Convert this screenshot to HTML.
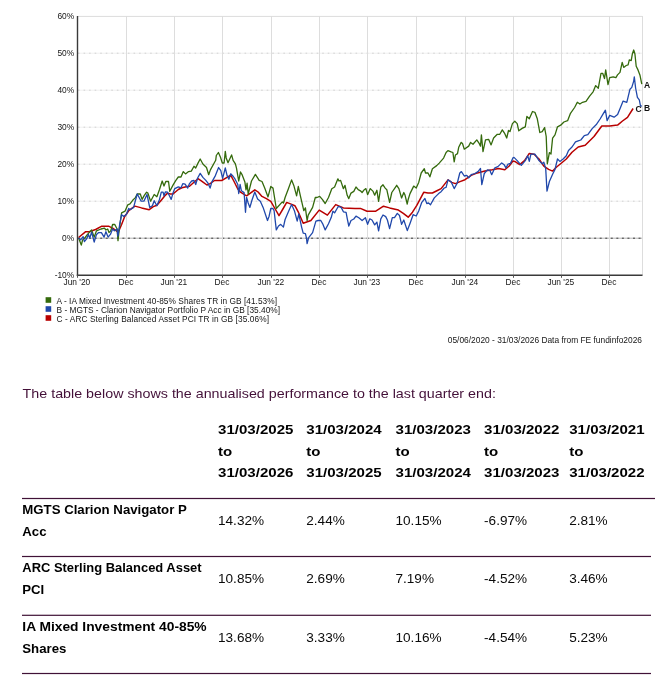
<!DOCTYPE html>
<html><head><meta charset="utf-8"><title>Fund performance</title>
<style>
html,body{margin:0;padding:0;background:#fff;}
body{width:670px;height:683px;position:relative;overflow:hidden;}
svg text{font-family:"Liberation Sans",sans-serif;fill:#151515;}
.ax{font-size:8.4px;}
.lg{font-size:8.3px;}
.lb{font-size:8.5px;font-weight:bold;fill:#111;}
.para{font-size:12.8px;fill:#431038;}
.hdr{font-size:12.7px;font-weight:bold;fill:#000;}
.lbl{font-size:12.7px;font-weight:bold;fill:#000;}
.val{font-size:12.4px;fill:#0a0a0a;}
</style></head>
<body>
<svg width="670" height="683" viewBox="0 0 670 683" style="position:absolute;left:0;top:0;will-change:transform">
<line x1="77.5" y1="53.2" x2="642.5" y2="53.2" stroke="#f0f0f0" stroke-width="1"/>
<line x1="78.0" y1="53.2" x2="642.5" y2="53.2" stroke="#d2d2d2" stroke-width="1" stroke-dasharray="1.6 3.95"/>
<line x1="77.5" y1="90.2" x2="642.5" y2="90.2" stroke="#f0f0f0" stroke-width="1"/>
<line x1="78.0" y1="90.2" x2="642.5" y2="90.2" stroke="#d2d2d2" stroke-width="1" stroke-dasharray="1.6 3.95"/>
<line x1="77.5" y1="127.2" x2="642.5" y2="127.2" stroke="#f0f0f0" stroke-width="1"/>
<line x1="78.0" y1="127.2" x2="642.5" y2="127.2" stroke="#d2d2d2" stroke-width="1" stroke-dasharray="1.6 3.95"/>
<line x1="77.5" y1="164.2" x2="642.5" y2="164.2" stroke="#f0f0f0" stroke-width="1"/>
<line x1="78.0" y1="164.2" x2="642.5" y2="164.2" stroke="#d2d2d2" stroke-width="1" stroke-dasharray="1.6 3.95"/>
<line x1="77.5" y1="201.2" x2="642.5" y2="201.2" stroke="#f0f0f0" stroke-width="1"/>
<line x1="78.0" y1="201.2" x2="642.5" y2="201.2" stroke="#d2d2d2" stroke-width="1" stroke-dasharray="1.6 3.95"/>
<line x1="77.5" y1="238.2" x2="642.5" y2="238.2" stroke="#b4b4b4" stroke-width="1"/>
<line x1="78.0" y1="238.2" x2="642.5" y2="238.2" stroke="#3c3c3c" stroke-width="1" stroke-dasharray="2 3.55"/>
<line x1="126.5" y1="16" x2="126.5" y2="275.3" stroke="#dddddd" stroke-width="1"/>
<line x1="174.5" y1="16" x2="174.5" y2="275.3" stroke="#dddddd" stroke-width="1"/>
<line x1="222.5" y1="16" x2="222.5" y2="275.3" stroke="#dddddd" stroke-width="1"/>
<line x1="271.5" y1="16" x2="271.5" y2="275.3" stroke="#dddddd" stroke-width="1"/>
<line x1="319.5" y1="16" x2="319.5" y2="275.3" stroke="#dddddd" stroke-width="1"/>
<line x1="367.5" y1="16" x2="367.5" y2="275.3" stroke="#dddddd" stroke-width="1"/>
<line x1="416.5" y1="16" x2="416.5" y2="275.3" stroke="#dddddd" stroke-width="1"/>
<line x1="465.5" y1="16" x2="465.5" y2="275.3" stroke="#dddddd" stroke-width="1"/>
<line x1="513.5" y1="16" x2="513.5" y2="275.3" stroke="#dddddd" stroke-width="1"/>
<line x1="561.5" y1="16" x2="561.5" y2="275.3" stroke="#dddddd" stroke-width="1"/>
<line x1="609.5" y1="16" x2="609.5" y2="275.3" stroke="#dddddd" stroke-width="1"/>
<line x1="77.5" y1="16.4" x2="642.5" y2="16.4" stroke="#dcdcdc" stroke-width="1"/>
<line x1="642.5" y1="16" x2="642.5" y2="275.3" stroke="#dddddd" stroke-width="1"/>
<path d="M78.6,237.5 L85.7,231.7 L89.3,231.7 L95.6,229.5 L101.4,226.3 L109,226.3 L112.6,228.1 L117.1,231.3 L118.9,230.8 L121.6,224.5 L124.7,216.5 L128.7,210.7 L134.9,206.1 L141.6,207.9 L149.2,209.7 L153.3,206.6 L156.9,205.2 L160.4,201.2 L164.9,195.8 L167.6,193.1 L170.3,194 L173,194 L178.3,189.5 L181.9,187.8 L187.3,186.4 L189.5,186.3 L194,182.3 L198,178.7 L202,181.4 L206.9,185 L210.1,183.6 L214.5,180.5 L221.7,180.5 L226.2,177.8 L230.7,175.1 L233.8,181 L237.8,189 L240.5,192.2 L244.1,194.4 L246.6,195.8 L250.4,193.1 L254.8,189.8 L258.1,192 L262,196.4 L266.4,198.6 L270.8,201.3 L275.2,209 L279,215.6 L282.9,209 L286.7,202.4 L291.1,204.1 L294.9,205.7 L298.2,211.8 L299.4,214.5 L303.2,223.3 L310.9,220.5 L319.2,210.1 L327.4,215.1 L335.7,204.6 L343.4,207.9 L355,208.5 L360.4,208.4 L367,211.2 L375.8,211.2 L383.5,206.2 L389.6,207.9 L398.4,210.1 L403.3,213.4 L408.2,217.2 L412.5,212.2 L416.8,205.4 L423.7,192.3 L428,193 L432.4,193 L437.4,190.5 L441.1,188.6 L448,179.9 L451.7,182.4 L455.4,183.6 L460,181.6 L465,179.7 L471.2,175.4 L477.4,172.9 L484.9,171 L492.3,169.8 L498.6,168.5 L504.8,169.8 L509.2,166 L512.9,161 L514.8,161.4 L519.7,164.6 L524.5,160.6 L529.3,153.4 L534.1,154.2 L539,159 L543.8,166.2 L548.6,169.4 L552.6,171.1 L556.6,167 L561.5,163 L566.3,159 L572,152.3 L578.2,147 L585.2,145.3 L594,136.5 L601.8,126 L609.7,126 L617.6,125.1 L622.5,121 L627.5,117.3 L633.1,108.5" fill="none" stroke="#b80000" stroke-width="1.5" stroke-linejoin="round"/>
<path d="M78.6,238 L81.3,245.1 L82.6,240 L84.8,238 L87.5,234.4 L91.6,229.9 L94.2,237.1 L96.5,230.8 L101,229 L104.5,228.1 L105.9,230 L107.7,229 L109,232.6 L110.8,230.8 L112.6,224.5 L114.8,224.5 L117.1,229 L118,240.7 L119.3,229 L121.6,212.9 L125.1,211.1 L127.8,204.8 L130,203.9 L132.7,200.3 L135.4,197.6 L137.2,194 L140.3,194 L142.1,199.4 L144.3,195.4 L146.6,192.2 L147.9,193.1 L150.6,201.2 L154.2,194.5 L156.9,196.7 L159.5,189.5 L162.2,181 L164,186 L165.8,181.5 L168.5,181.5 L169.8,191.3 L173,185.1 L175.7,180.6 L178.3,177 L181,177 L183.3,171.6 L185.5,173.9 L188.6,171.6 L191.3,171.1 L194,166.2 L195.7,168 L198,163.1 L200.2,159 L202.9,164 L206.5,167.5 L208.7,174.7 L210.4,169.9 L215.7,160.3 L216.3,155.5 L218.4,152.5 L220.5,157.3 L222.3,163 L224.1,163 L225.3,151.3 L226.2,157.9 L228,162.7 L231.6,154.9 L233.1,160.3 L235.4,163.9 L236.6,168.7 L237,171.1 L238.7,181 L240.5,172 L242.2,174.9 L244.9,182.1 L246,189.8 L247.1,183.2 L248.2,194.2 L251.5,181 L255.4,174.4 L259.2,180.4 L262,181.5 L264.7,188.1 L268,196.9 L270.8,186.5 L273,188.1 L276.3,208.5 L282.3,201.9 L283.5,203 L285.1,197.5 L288.4,188.7 L291.6,179.9 L293.8,185.4 L296.6,195.8 L298.3,186.5 L300.5,196.4 L303.8,210.7 L305.4,207.9 L307.1,220.5 L308.2,215.1 L312.6,207.4 L315.3,197.5 L317,197.5 L319.7,196.4 L322.5,199.7 L325.2,203.5 L328.5,197.5 L331.8,188.7 L334.6,187 L337.9,178.8 L339,181 L340.6,180.4 L343.4,188.7 L345,185.4 L347.2,195.3 L348.8,198.6 L351,193.1 L353.8,191.4 L356,187 L358.2,189.7 L360.4,190.8 L362.1,192.5 L363.7,190.3 L365.9,188.6 L367.6,194.7 L370.3,188.6 L373.1,191.4 L374.7,195.2 L376.9,190.3 L378.6,201.3 L380.8,187 L383,184.8 L385.2,188.1 L386.8,189.7 L389.6,202.4 L391.8,192.5 L394.5,188.6 L396.7,185.3 L398.9,188.6 L401.6,198 L403.8,192.5 L404.9,194.7 L407.2,204 L408.1,199.8 L410,193.6 L413.7,186.1 L416.2,188 L418.7,182.4 L421.2,173 L424.3,168.7 L425.5,173 L428,173 L429.9,176.8 L432.4,168.7 L436.7,165.6 L439.2,163.1 L443.6,158.1 L446.1,152.5 L447.9,150.6 L451.1,151.9 L452.9,152.5 L454.2,161.8 L455.4,155 L457.5,153.6 L458.7,147.3 L461.2,142.4 L462.5,143.5 L464.3,149.2 L468.7,146.1 L470.6,142.4 L473,144.2 L476.8,139.9 L479.3,143.6 L480.5,146.1 L481.4,134.9 L483,151.7 L485.5,139.9 L488.6,139.3 L491.1,144.9 L493.6,138 L497.3,134.3 L499.8,134.3 L502.3,129.9 L504.8,133.7 L506.7,138 L508.5,130.5 L510,131.6 L512.4,123.6 L514.8,121.2 L517.2,123.6 L518.8,130.8 L522.1,128.4 L525.3,126.8 L526.9,116.4 L529.3,118.8 L532.5,111.5 L534.9,112.3 L537.3,118.8 L539.8,132.5 L542.2,131.6 L544.6,127.6 L546.2,136.5 L547.3,163.8 L549.4,152.6 L551,154 L552.6,138.1 L555,134.9 L557.5,126.8 L560.7,125.2 L563.9,122 L567.6,120.7 L570.3,113.7 L574.6,107.5 L577.3,102.3 L579.9,104 L582.5,102.3 L586,101.4 L589.6,96.1 L593.1,91.8 L595.7,85.6 L598.3,88.2 L601,73.3 L602.7,73.3 L604.5,78.6 L605.7,69.8 L608,84.7 L609.7,77.7 L613.2,76.8 L615.9,77.7 L617.5,74.9 L620,72.4 L622.2,62.4 L623.7,67.4 L626.2,65.5 L628.1,64.9 L629.3,59.9 L631.2,60.6 L632.4,53.7 L633.7,50 L634.9,53.7 L636.2,66.2 L638,69.9 L639.9,74.9 L641.8,84.2" fill="none" stroke="#346a0c" stroke-width="1.3" stroke-linejoin="round"/>
<path d="M78.6,238 L80.7,239.8 L83.1,236.6 L84.4,241.6 L86.6,238.9 L88.4,234.4 L89.8,238 L91.6,232.2 L94.2,242 L96.5,234.4 L98.7,232.6 L101.4,232.6 L104.1,237.1 L105.9,231.7 L108.1,237.1 L110.4,234.4 L112.6,229 L114.4,230.8 L117.1,229 L117.8,236.2 L118.5,232.6 L119.8,223.6 L121.6,214.7 L123.8,216.5 L126.5,214.2 L128.7,208.4 L130,209.7 L133.6,207.4 L137.2,194 L141.2,201.2 L143.9,201.2 L147,194.5 L149.7,207.4 L152.4,205.7 L154.2,200.7 L156.9,205.7 L159.5,199.4 L161.3,192.2 L163.1,192.2 L164,195.8 L165.4,191.8 L167.6,192.2 L169.4,195.8 L171.2,199.4 L173,193.1 L174.8,188.6 L178.3,186.9 L181,187.8 L182.8,183.7 L185.1,184.2 L187.7,188.1 L189.5,183.6 L191.7,181 L194,180.5 L195.7,184.5 L197.5,178.3 L200.2,173.4 L202.9,177.4 L205.6,180.1 L207.8,182.8 L210.1,188.1 L211.9,181.9 L215.4,175.6 L218.6,167.5 L220.8,170.7 L222.6,178.3 L225.3,168 L227.1,175.6 L228.9,179.2 L230.7,173.8 L233.3,176.5 L235.1,179.2 L237.8,184.5 L238.7,193.5 L240.1,184.5 L241.4,190.8 L244.1,192.6 L245.5,212.3 L246.6,197.5 L248.2,203 L249.9,207.4 L252.1,199.7 L254.8,192 L257.6,199.1 L260.3,201.3 L263.1,207.4 L267.5,220.5 L269.1,216.2 L270.8,208.5 L273,208.5 L274.1,210.7 L276.3,229.9 L278.5,226 L280.7,224.4 L283.4,227.1 L285.1,219.5 L288.4,211.8 L291.6,204.6 L294.4,210.7 L297.2,221.1 L298.8,214 L301.6,227.1 L303.2,233.2 L305.4,233.7 L306.5,238.1 L307.1,243.6 L308.7,237.6 L312.6,232.6 L315.9,221.1 L318.1,220.5 L320.8,220.5 L323,224.4 L325.2,229.9 L328.5,223.8 L331.3,217.3 L332.9,211.2 L334.6,212.9 L336.8,209 L338.4,206.3 L341.2,207.4 L343.4,211.8 L346.1,212.3 L347.2,218.4 L348.8,226 L351,220.5 L353.8,219 L356,216.1 L358.8,217.7 L362.1,220.5 L365.4,217.7 L367.6,224.3 L369.8,218.8 L372,220 L374.7,224.9 L376.9,222.1 L378.6,230.9 L380.8,218.8 L383,215 L385.7,216.6 L387.4,220 L389.6,228.7 L392.3,217.7 L394.5,217.7 L397.3,213.4 L399.5,215.5 L401.6,224.3 L403.8,220 L407.3,230.6 L410,223.4 L413.1,214.7 L416.2,216 L418.7,211 L421.8,202.3 L424.9,198.5 L426.8,203.5 L428.6,203 L430.5,204.8 L434.3,197.9 L438.6,193.6 L441.1,191.7 L444.2,188 L446.1,187.3 L448,179.9 L451.1,181.7 L454.2,188.6 L457.3,183 L459.8,173 L461.4,171.6 L464.3,176 L466.8,175.4 L468.7,177.8 L471.2,174.7 L474.9,173.5 L478,171.6 L480.5,168.5 L481.8,184.7 L484.3,173.5 L487.4,169.8 L489.9,170.4 L491.7,174.7 L494.8,167.9 L497.9,166.6 L501.7,162.9 L504.2,164.8 L506,167.9 L507.9,164.2 L510.4,163.5 L512.9,157.9 L514,157.4 L517.2,160.6 L521.3,165.4 L525.3,160.6 L527.7,155.8 L529.3,161.4 L530.9,154.2 L534.9,154.2 L539,160.6 L542.2,163.8 L543.8,162.2 L545.7,168.6 L547,191.2 L549.4,181.5 L552.6,174.3 L555,169.4 L557.5,159 L559.9,161.4 L563.1,159 L566.3,155.8 L568.5,150.5 L572,147 L575.5,141.8 L578.2,140.9 L580.8,140 L584.3,135.6 L587.8,134.7 L592.2,128.6 L596.6,124.2 L600.1,119 L602.7,114.6 L605.4,110.2 L607.1,120.7 L609.7,115.4 L614.1,117.2 L617.6,114.6 L620.5,107.5 L623.1,101.1 L626.8,102.3 L630,89.2 L631.8,87.4 L633.7,81.1 L634.3,76.8 L635.6,88 L637.4,97.3 L639.3,99.8 L640.5,106 L641.8,106" fill="none" stroke="#2048ab" stroke-width="1.3" stroke-linejoin="round"/>
<line x1="77.5" y1="16" x2="77.5" y2="276.1" stroke="#3a3a3a" stroke-width="1.4"/>
<line x1="76.8" y1="275.3" x2="642.5" y2="275.3" stroke="#3a3a3a" stroke-width="1.5"/>
<line x1="77.5" y1="275.3" x2="77.5" y2="277.8" stroke="#555" stroke-width="1"/>
<line x1="126.5" y1="275.3" x2="126.5" y2="277.8" stroke="#555" stroke-width="1"/>
<line x1="174.5" y1="275.3" x2="174.5" y2="277.8" stroke="#555" stroke-width="1"/>
<line x1="222.5" y1="275.3" x2="222.5" y2="277.8" stroke="#555" stroke-width="1"/>
<line x1="271.5" y1="275.3" x2="271.5" y2="277.8" stroke="#555" stroke-width="1"/>
<line x1="319.5" y1="275.3" x2="319.5" y2="277.8" stroke="#555" stroke-width="1"/>
<line x1="367.5" y1="275.3" x2="367.5" y2="277.8" stroke="#555" stroke-width="1"/>
<line x1="416.5" y1="275.3" x2="416.5" y2="277.8" stroke="#555" stroke-width="1"/>
<line x1="465.5" y1="275.3" x2="465.5" y2="277.8" stroke="#555" stroke-width="1"/>
<line x1="513.5" y1="275.3" x2="513.5" y2="277.8" stroke="#555" stroke-width="1"/>
<line x1="561.5" y1="275.3" x2="561.5" y2="277.8" stroke="#555" stroke-width="1"/>
<line x1="609.5" y1="275.3" x2="609.5" y2="277.8" stroke="#555" stroke-width="1"/>
<text x="74.2" y="19.3" text-anchor="end" class="ax">60%</text>
<text x="74.2" y="56.3" text-anchor="end" class="ax">50%</text>
<text x="74.2" y="93.3" text-anchor="end" class="ax">40%</text>
<text x="74.2" y="130.3" text-anchor="end" class="ax">30%</text>
<text x="74.2" y="167.3" text-anchor="end" class="ax">20%</text>
<text x="74.2" y="204.3" text-anchor="end" class="ax">10%</text>
<text x="74.2" y="241.3" text-anchor="end" class="ax">0%</text>
<text x="74.2" y="278.3" text-anchor="end" class="ax">-10%</text>
<text x="76.9" y="284.6" text-anchor="middle" class="ax">Jun '20</text>
<text x="125.9" y="284.6" text-anchor="middle" class="ax">Dec</text>
<text x="173.9" y="284.6" text-anchor="middle" class="ax">Jun '21</text>
<text x="221.9" y="284.6" text-anchor="middle" class="ax">Dec</text>
<text x="270.9" y="284.6" text-anchor="middle" class="ax">Jun '22</text>
<text x="318.9" y="284.6" text-anchor="middle" class="ax">Dec</text>
<text x="366.9" y="284.6" text-anchor="middle" class="ax">Jun '23</text>
<text x="415.9" y="284.6" text-anchor="middle" class="ax">Dec</text>
<text x="464.9" y="284.6" text-anchor="middle" class="ax">Jun '24</text>
<text x="512.9" y="284.6" text-anchor="middle" class="ax">Dec</text>
<text x="560.9" y="284.6" text-anchor="middle" class="ax">Jun '25</text>
<text x="608.9" y="284.6" text-anchor="middle" class="ax">Dec</text>
<text x="644" y="88" class="lb">A</text>
<text x="644" y="111" class="lb">B</text>
<text x="635.6" y="112" class="lb">C</text>
<rect x="45.6" y="297.2" width="5.6" height="5.6" fill="#346a0c"/>
<text x="56.5" y="303.9" class="lg" textLength="220.5" lengthAdjust="spacing">A - IA Mixed Investment 40-85% Shares TR in GB [41.53%]</text>
<rect x="45.6" y="306.2" width="5.6" height="5.6" fill="#2048ab"/>
<text x="56.5" y="312.9" class="lg" textLength="223.5" lengthAdjust="spacing">B - MGTS - Clarion Navigator Portfolio P Acc in GB [35.40%]</text>
<rect x="45.6" y="315.2" width="5.6" height="5.6" fill="#b80000"/>
<text x="56.5" y="321.9" class="lg" textLength="212.5" lengthAdjust="spacing">C - ARC Sterling Balanced Asset PCI TR in GB [35.06%]</text>
<text x="447.8" y="343.2" class="ax">05/06/2020 - 31/03/2026 Data from FE fundinfo2026</text>
<text x="22.6" y="397.8" class="para" textLength="473.3" lengthAdjust="spacingAndGlyphs">The table below shows the annualised performance to the last quarter end:</text>
<text x="218.0" y="434.1" class="hdr" textLength="75.4" lengthAdjust="spacingAndGlyphs">31/03/2025</text>
<text x="218.0" y="455.6" class="hdr" textLength="14.2" lengthAdjust="spacingAndGlyphs">to</text>
<text x="218.0" y="476.5" class="hdr" textLength="75.4" lengthAdjust="spacingAndGlyphs">31/03/2026</text>
<text x="306.3" y="434.1" class="hdr" textLength="75.4" lengthAdjust="spacingAndGlyphs">31/03/2024</text>
<text x="306.3" y="455.6" class="hdr" textLength="14.2" lengthAdjust="spacingAndGlyphs">to</text>
<text x="306.3" y="476.5" class="hdr" textLength="75.4" lengthAdjust="spacingAndGlyphs">31/03/2025</text>
<text x="395.5" y="434.1" class="hdr" textLength="75.4" lengthAdjust="spacingAndGlyphs">31/03/2023</text>
<text x="395.5" y="455.6" class="hdr" textLength="14.2" lengthAdjust="spacingAndGlyphs">to</text>
<text x="395.5" y="476.5" class="hdr" textLength="75.4" lengthAdjust="spacingAndGlyphs">31/03/2024</text>
<text x="484.1" y="434.1" class="hdr" textLength="75.4" lengthAdjust="spacingAndGlyphs">31/03/2022</text>
<text x="484.1" y="455.6" class="hdr" textLength="14.2" lengthAdjust="spacingAndGlyphs">to</text>
<text x="484.1" y="476.5" class="hdr" textLength="75.4" lengthAdjust="spacingAndGlyphs">31/03/2023</text>
<text x="569.2" y="434.1" class="hdr" textLength="75.4" lengthAdjust="spacingAndGlyphs">31/03/2021</text>
<text x="569.2" y="455.6" class="hdr" textLength="14.2" lengthAdjust="spacingAndGlyphs">to</text>
<text x="569.2" y="476.5" class="hdr" textLength="75.4" lengthAdjust="spacingAndGlyphs">31/03/2022</text>
<rect x="22" y="497.9" width="633" height="1.2" fill="#401237"/>
<rect x="22" y="555.9" width="629" height="1.2" fill="#401237"/>
<rect x="22" y="614.7" width="629" height="1.2" fill="#401237"/>
<rect x="22" y="672.9" width="629" height="1.2" fill="#401237"/>
<text x="22.3" y="513.8" class="lbl" textLength="164.5" lengthAdjust="spacingAndGlyphs">MGTS Clarion Navigator P</text>
<text x="22.3" y="535.8" class="lbl" textLength="24.2" lengthAdjust="spacingAndGlyphs">Acc</text>
<text x="218.0" y="524.9" class="val" textLength="46.1" lengthAdjust="spacingAndGlyphs">14.32%</text>
<text x="306.3" y="524.9" class="val" textLength="38.5" lengthAdjust="spacingAndGlyphs">2.44%</text>
<text x="395.5" y="524.9" class="val" textLength="46.1" lengthAdjust="spacingAndGlyphs">10.15%</text>
<text x="484.1" y="524.9" class="val" textLength="43.0" lengthAdjust="spacingAndGlyphs">-6.97%</text>
<text x="569.2" y="524.9" class="val" textLength="38.5" lengthAdjust="spacingAndGlyphs">2.81%</text>
<text x="22.3" y="571.8" class="lbl" textLength="179.3" lengthAdjust="spacingAndGlyphs">ARC Sterling Balanced Asset</text>
<text x="22.3" y="593.8" class="lbl" textLength="22.0" lengthAdjust="spacingAndGlyphs">PCI</text>
<text x="218.0" y="582.9" class="val" textLength="46.1" lengthAdjust="spacingAndGlyphs">10.85%</text>
<text x="306.3" y="582.9" class="val" textLength="38.5" lengthAdjust="spacingAndGlyphs">2.69%</text>
<text x="395.5" y="582.9" class="val" textLength="38.5" lengthAdjust="spacingAndGlyphs">7.19%</text>
<text x="484.1" y="582.9" class="val" textLength="43.0" lengthAdjust="spacingAndGlyphs">-4.52%</text>
<text x="569.2" y="582.9" class="val" textLength="38.5" lengthAdjust="spacingAndGlyphs">3.46%</text>
<text x="22.3" y="630.6" class="lbl" textLength="184.3" lengthAdjust="spacingAndGlyphs">IA Mixed Investment 40-85%</text>
<text x="22.3" y="652.6" class="lbl" textLength="44.1" lengthAdjust="spacingAndGlyphs">Shares</text>
<text x="218.0" y="641.7" class="val" textLength="46.1" lengthAdjust="spacingAndGlyphs">13.68%</text>
<text x="306.3" y="641.7" class="val" textLength="38.5" lengthAdjust="spacingAndGlyphs">3.33%</text>
<text x="395.5" y="641.7" class="val" textLength="46.1" lengthAdjust="spacingAndGlyphs">10.16%</text>
<text x="484.1" y="641.7" class="val" textLength="43.0" lengthAdjust="spacingAndGlyphs">-4.54%</text>
<text x="569.2" y="641.7" class="val" textLength="38.5" lengthAdjust="spacingAndGlyphs">5.23%</text>
</svg>
</body></html>
